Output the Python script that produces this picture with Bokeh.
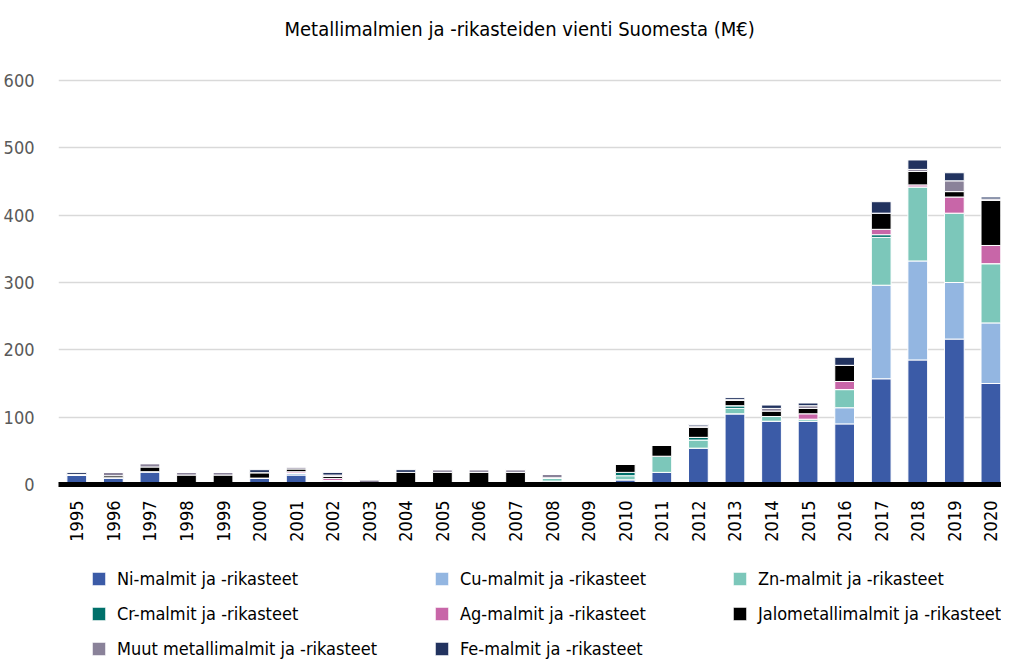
from bokeh.plotting import figure
from bokeh.layouts import column
from bokeh.models import Range1d, FixedTicker, Legend, LegendItem, ColumnDataSource
from bokeh.embed import file_html
from bokeh.resources import INLINE

years = ["1995", "1996", "1997", "1998", "1999", "2000", "2001", "2002", "2003",
         "2004", "2005", "2006", "2007", "2008", "2009", "2010", "2011", "2012",
         "2013", "2014", "2015", "2016", "2017", "2018", "2019", "2020"]

ni   = [14, 10, 19, 0, 0, 9.5, 14, 4, 0, 0, 0, 0, 0, 5, 0, 7, 18, 54, 105, 94, 94, 90, 157, 185, 216, 150]
cu   = [0, 0, 0, 0, 0, 0, 3, 2, 0, 0, 0, 0, 0, 0, 0, 0, 0, 0, 0, 0, 0, 24, 139, 147, 84, 90]
zn   = [0, 0, 0, 0, 0, 0, 0, 0, 0, 0, 0, 0, 0, 4, 0, 6, 24, 12, 8, 7, 3, 27, 71, 110, 103, 88]
cr   = [0, 0, 0, 0, 0, 0, 0, 0, 0, 0, 0, 0, 0, 1, 0, 5, 0, 4, 4, 0, 0, 0, 4, 0, 0, 0]
ag   = [0, 0, 0, 0, 0, 0, 2, 3, 0, 0, 0, 0, 0, 0, 0, 0, 0, 0, 0, 0, 8, 12, 8, 3, 24, 27]
jalo = [1, 3, 7, 14, 14, 8, 4, 3, 0, 18, 18, 18, 18, 0, 0, 12, 16, 15, 8, 8, 8, 24, 24, 20, 8, 67]
muut = [0, 5, 5, 4, 4, 0, 3, 2, 7, 0, 4, 4, 4, 5, 0, 0, 0, 2, 1, 4, 4, 0, 0, 3, 16, 2]
fe   = [3, 0, 0, 0, 0, 4.5, 0, 4, 0, 4, 0, 0, 0, 0, 0, 0, 0, 2, 3, 5, 4, 12, 17, 14, 12, 3]

series_keys = ["ni", "cu", "zn", "cr", "ag", "jalo", "muut", "fe"]
series_labels = ["Ni-malmit ja -rikasteet", "Cu-malmit ja -rikasteet", "Zn-malmit ja -rikasteet",
                 "Cr-malmit ja -rikasteet", "Ag-malmit ja -rikasteet", "Jalometallimalmit ja -rikasteet",
                 "Muut metallimalmit ja -rikasteet", "Fe-malmit ja -rikasteet"]
colors = ["#3B5BA7", "#93B6E1", "#7CC7BA", "#00706A", "#C866A8", "#000000", "#8A8299", "#22335F"]

title_text = "Metallimalmien ja -rikasteiden vienti Suomesta (M\u20ac)"
y_ticks = [0, 100, 200, 300, 400, 500, 600]

FONT = "DejaVu Sans Condensed, Liberation Sans Narrow, Roboto"

source = ColumnDataSource(dict(x=list(range(len(years))), ni=ni, cu=cu, zn=zn, cr=cr,
                               ag=ag, jalo=jalo, muut=muut, fe=fe))

W = 1001
LEFT = 52


def bare_figure(height):
    f = figure(width=W, height=height, output_backend="svg", toolbar_location=None,
               x_range=Range1d(-100, -99), y_range=Range1d(0, 1),
               x_axis_type=None, y_axis_type=None,
               min_border_left=LEFT, min_border_right=0, min_border_top=0, min_border_bottom=0)
    f.outline_line_color = None
    f.xgrid.grid_line_color = None
    f.ygrid.grid_line_color = None
    return f


# title panel
H0 = 62
tf = bare_figure(H0)
tf.title.text = title_text
tf.title.text_font = FONT
tf.title.text_font_size = "20px"
tf.title.text_font_style = "normal"
tf.title.text_color = "#000000"
tf.title.align = "left"
tf.title.offset = 226
tf.title.standoff = 29

# main chart
H1, TOP, BOTTOM = 483, 16, 61
p = figure(width=W, height=H1, output_backend="svg", toolbar_location=None,
           x_range=Range1d(-0.5, 25.29), y_range=Range1d(0, 603),
           min_border_left=LEFT, min_border_right=0, min_border_top=TOP,
           min_border_bottom=BOTTOM)

p.vbar_stack(series_keys, x="x", width=0.54, color=colors, source=source,
             line_color="white", line_width=1)

p.outline_line_color = None
p.xgrid.grid_line_color = None
p.ygrid.grid_line_color = "#d9d9d9"
p.ygrid.grid_line_width = 1.5
p.ygrid.ticker = FixedTicker(ticks=y_ticks)

p.yaxis.ticker = FixedTicker(ticks=y_ticks)
p.yaxis.axis_line_color = None
p.yaxis.major_tick_line_color = None
p.yaxis.minor_tick_line_color = None
p.yaxis.major_label_standoff = 18
p.yaxis.major_label_text_font = FONT
p.yaxis.major_label_text_font_size = "18px"
p.yaxis.major_label_text_color = "#595959"

p.xaxis.ticker = FixedTicker(ticks=list(range(len(years))))
p.xaxis.major_label_overrides = {i: y for i, y in enumerate(years)}
p.xaxis.major_label_orientation = 3.14159265 / 2
p.xaxis.axis_line_color = "#000000"
p.xaxis.axis_line_width = 5
p.xaxis.major_tick_line_color = None
p.xaxis.minor_tick_line_color = None
p.xaxis.major_label_standoff = 10
p.xaxis.major_label_text_font = FONT
p.xaxis.major_label_text_font_size = "18px"
p.xaxis.major_label_text_color = "#000000"

# legend panel (separate figure below the chart)
H2 = 115
lf = bare_figure(H2)
lrs = lf.vbar_stack(series_keys, x="x", width=0.54, color=colors, source=source,
                    line_color="white", line_width=1)

LH, SP = 22, 13
columns_idx = [[0, 3, 6], [1, 4, 7], [2, 5]]
col_x = [32, 375, 673]
legend_top = 22
for idxs, cx in zip(columns_idx, col_x):
    n = len(idxs)
    hgt = n * LH + (n - 1) * SP
    items = [LegendItem(label=series_labels[i], renderers=[lrs[i]]) for i in idxs]
    lg = Legend(items=items, location=(cx, H2 - legend_top - hgt), orientation="vertical",
                padding=0, margin=0, spacing=SP,
                glyph_width=17, glyph_height=17, label_height=LH, label_standoff=10,
                label_text_font=FONT, label_text_font_size="18px",
                label_text_color="#000000", border_line_color=None,
                background_fill_alpha=0)
    lf.add_layout(lg)

layout = column(tf, p, lf, spacing=0)
open("out.html", "w").write(file_html(layout, INLINE))
